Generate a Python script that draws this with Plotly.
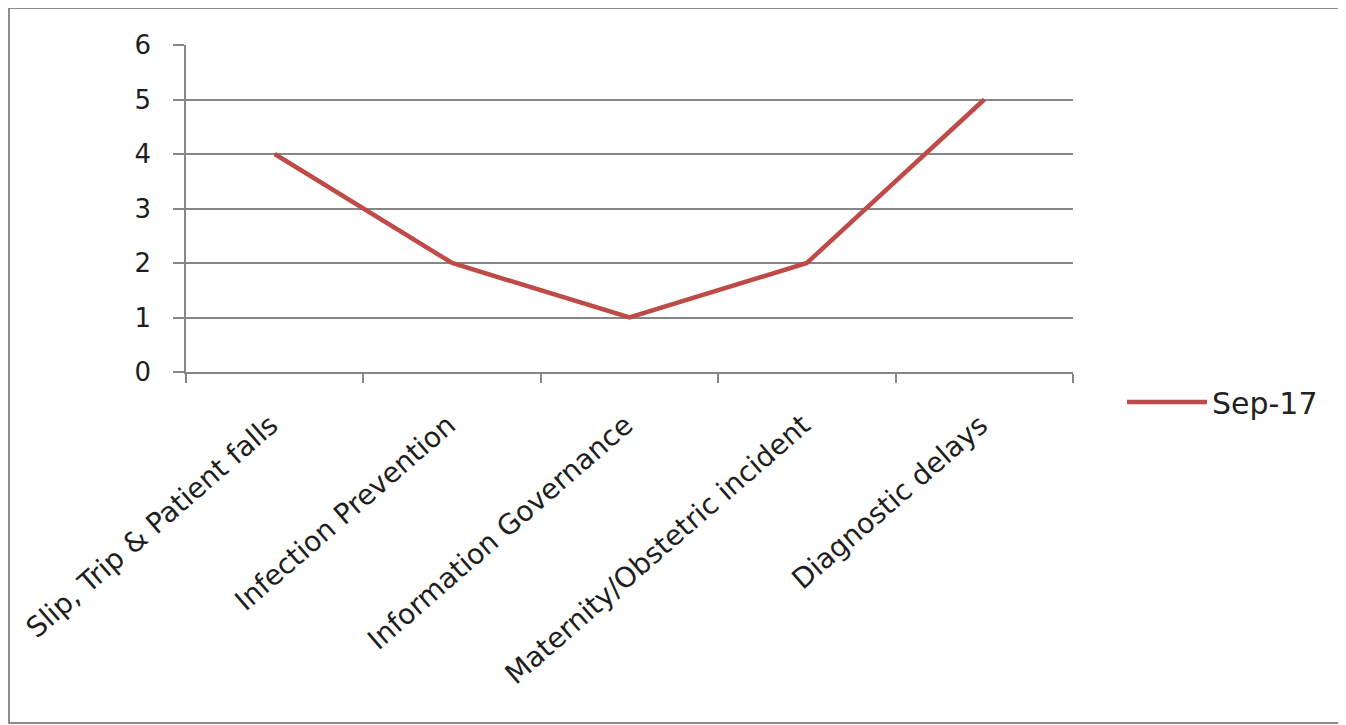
import plotly.graph_objects as go

categories = ["Slip, Trip & Patient falls", "Infection Prevention", "Information Governance",
              "Maternity/Obstetric incident", "Diagnostic delays"]
values = [4, 2, 1, 2, 5]
series_name = "Sep-17"
y_ticks = [0, 1, 2, 3, 4, 5, 6]

# page body has an 8px margin; work in page pixels and convert
OFF = 8
W, H = 1346 - OFF, 725 - OFF
L, R, T, B = 186 - OFF, 1073 - OFF, 45 - OFF, 372 - OFF
pw, ph = R - L, B - T

def px(x):
    return (x - OFF - L) / pw

def py(y):
    return (B - (y - OFF)) / ph

fig = go.Figure()
fig.add_trace(go.Scatter(
    x=categories, y=values, mode="lines", name=series_name,
    line=dict(color="#BE4B48", width=4.5),
))

grid = "#868686"
fig.update_layout(
    width=W, height=H,
    margin=dict(l=L, r=W - R, t=T, b=H - B),
    paper_bgcolor="white", plot_bgcolor="white",
    font=dict(family="DejaVu Sans", color="#222222"),
    showlegend=True,
    legend=dict(x=px(1122), y=py(402), xanchor="left", yanchor="middle",
                font=dict(size=30, color="#222222"), itemwidth=80,
                bgcolor="rgba(0,0,0,0)"),
    xaxis=dict(
        type="category", range=[-0.5, 4.5], tickson="boundaries", automargin=False,
        ticks="outside", ticklen=9, tickcolor=grid, tickwidth=1.5,
        showline=True, linecolor=grid, linewidth=1.5, showgrid=False,
        tickangle=-41, tickfont=dict(size=28, color="#1e1e1e"),
        ticklabelstandoff=24, ticklabelshift=-4,
    ),
    yaxis=dict(
        range=[0, 6], tickvals=y_ticks, ticks="outside", ticklen=11, automargin=False,
        tickcolor=grid, tickwidth=1.5, showline=True, linecolor=grid, linewidth=1.5,
        showgrid=True, gridcolor=grid, gridwidth=1.5, zeroline=False,
        tickfont=dict(size=26, color="#1e1e1e"), ticklabelstandoff=17,
    ),
)

fig.add_shape(type="rect", xref="paper", yref="paper",
              x0=px(9), x1=px(1342), y0=py(723), y1=py(8),
              line=dict(color="#8c8c8c", width=2), layer="below")

fig.write_html("out.html")
